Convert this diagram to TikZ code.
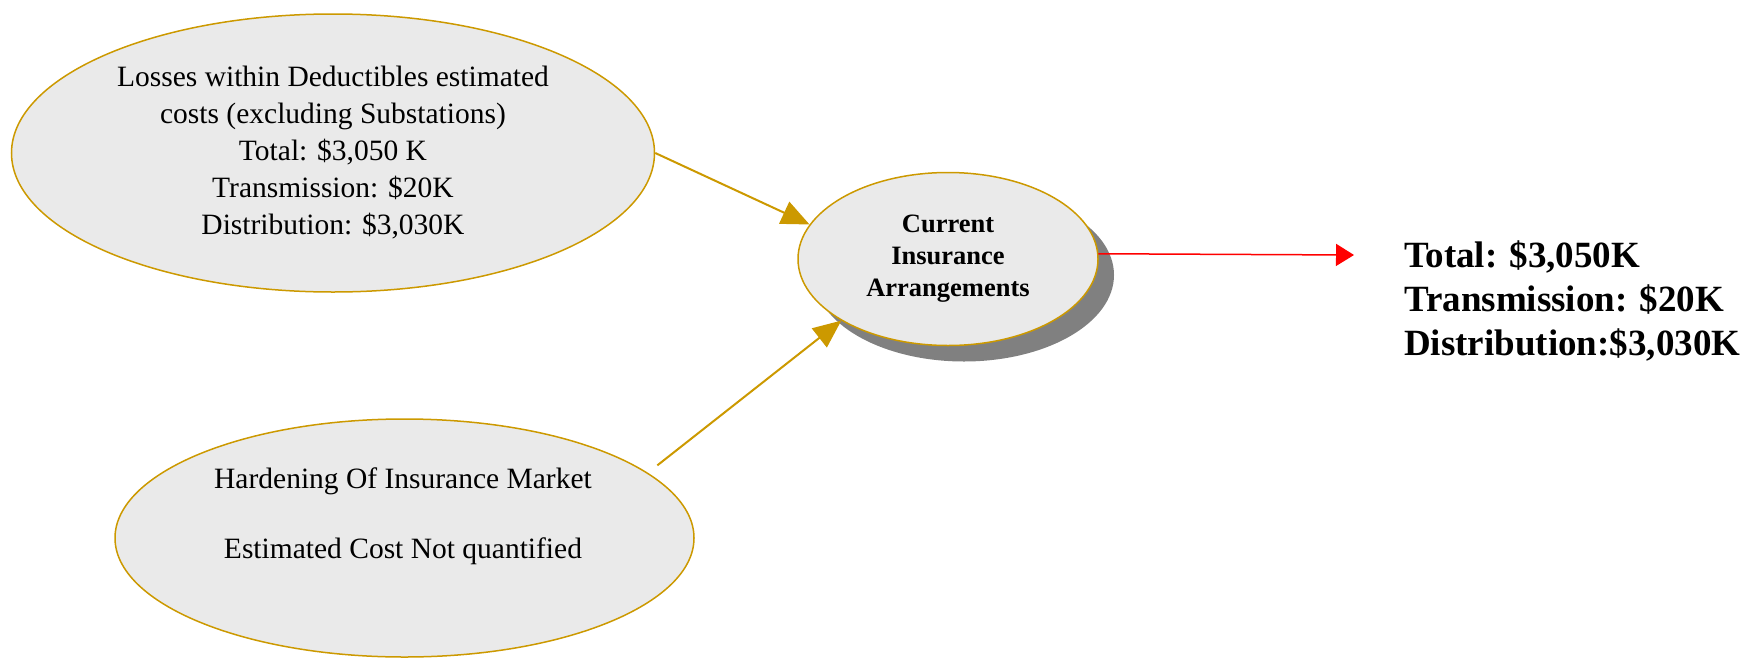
\documentclass[tikz,border=0pt]{standalone}
\usepackage{fontspec}
\setmainfont{Liberation Serif}
\usetikzlibrary{shapes.geometric, arrows.meta, shadows}
\definecolor{gd}{RGB}{204, 153, 0}
\definecolor{rd}{RGB}{255, 0, 0}
\definecolor{fillgray}{RGB}{234, 234, 234}
\definecolor{shadegray}{RGB}{128, 128, 128}

\begin{document}
\begin{tikzpicture}[x = 1pt, y = -1pt,
  bubble/.style = {ellipse, draw = gd, line width = 1.5pt, fill = fillgray, inner sep = 0pt, align = center},
  plain/.style = {font = \fontsize{29.5}{37}\selectfont},
  feed/.style = {draw = gd, line width = 2pt, -{Triangle[length = 28pt, width = 24pt]}}]
\useasboundingbox (0,0) rectangle (1754,659);
\node[bubble, plain, minimum width = 643pt, minimum height = 278pt] (losses) at (333,153)
  {Losses within Deductibles estimated\\costs (excluding Substations)\\Total: \$3,050 K\\Transmission: \$20K\\Distribution: \$3,030K};
\node[bubble, minimum width = 579pt, minimum height = 238pt] (market) at (404.5,538) {};
\node[plain, align = center] (markettext) at (403,516)
  {Hardening Of Insurance Market\\[33pt]Estimated Cost Not quantified};
\node[bubble, minimum width = 300pt, minimum height = 173pt,
  drop shadow = {shadow xshift = 16pt, shadow yshift = -16pt, fill = shadegray, opacity = 1},
  font = \fontsize{26.5}{32}\selectfont\bfseries] (current) at (948,259)
  {Current\\Insurance\\Arrangements};
\node[anchor = west, align = left, inner sep = 0pt, font = \fontsize{37}{44}\selectfont\bfseries] (result) at (1404,301)
  {Total: \$3,050K\\Transmission: \$20K\\Distribution:\$3,030K};
\coordinate (redtip) at (1354,255);
\draw[feed] (losses.east) -- (current.166);
\draw[feed, shorten <= 12pt] (market.15) -- (current.210);
\draw[rd, line width = 1.5pt, -{Triangle[length = 18pt, width = 22pt]}] (current.2) -- (redtip);
\end{tikzpicture}
\end{document}
